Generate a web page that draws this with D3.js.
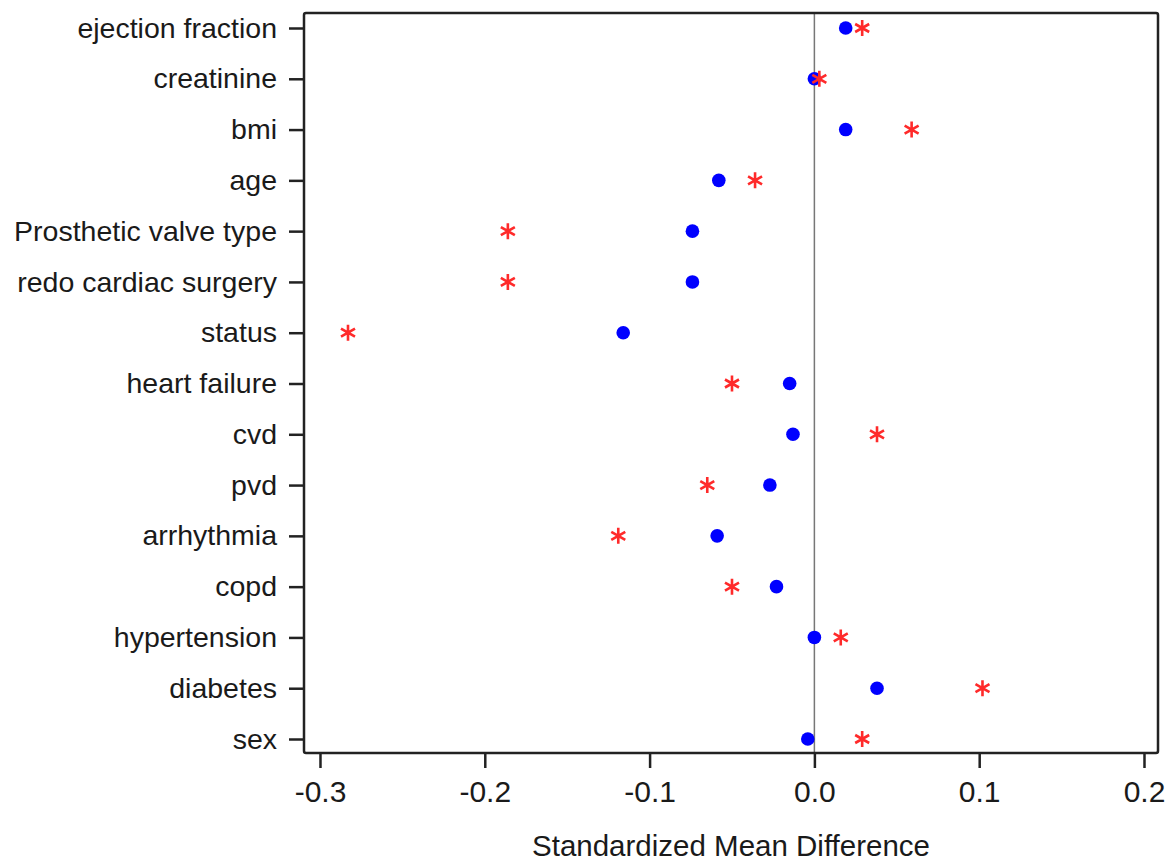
<!DOCTYPE html>
<html>
<head>
<meta charset="utf-8">
<script src="https://cdn.jsdelivr.net/npm/d3@7"></script>
<style>
    body { margin: 0; background: #fff; }
    text { font-family: "Liberation Sans", Arial, sans-serif; fill: #1a1a1a; }
</style>
</head>
<body>
<div id="chart"></div>
<script>
// Covariates, top to bottom
var covariates = ["ejection fraction", "creatinine", "bmi", "age", "Prosthetic valve type",
    "redo cardiac surgery", "status", "heart failure", "cvd", "pvd", "arrhythmia",
    "copd", "hypertension", "diabetes", "sex"];

// Standardized mean differences (blue dots)
var dotValues = [0.019, 0.000, 0.019, -0.058, -0.074, -0.074, -0.116, -0.015, -0.013,
    -0.027, -0.059, -0.023, 0.000, 0.038, -0.004];

// Standardized mean differences (red stars)
var starValues = [0.029, 0.003, 0.059, -0.036, -0.186, -0.186, -0.283, -0.050, 0.038,
    -0.065, -0.119, -0.050, 0.016, 0.102, 0.029];

var xTicks = [-0.3, -0.2, -0.1, 0.0, 0.1, 0.2];

function init() {
    var width = 1171;
    var height = 863;
    var plot = { left: 304, right: 1158, top: 13, bottom: 753 };

    var svg = d3.select("#chart")
        .append("svg")
        .attr("width", width)
        .attr("height", height);

    // Scales
    var x = d3.scaleLinear()
        .domain([-0.3097, 0.2085])
        .range([plot.left, plot.right]);

    var y = d3.scalePoint()
        .domain(covariates)
        .range([plot.top + 15, plot.bottom - 14]);

    // Reference line at zero
    svg.append("line")
        .attr("x1", x(0)).attr("x2", x(0))
        .attr("y1", plot.top).attr("y2", plot.bottom)
        .attr("stroke", "#777")
        .attr("stroke-width", 1.5);

    // Frame
    svg.append("rect")
        .attr("x", plot.left)
        .attr("y", plot.top)
        .attr("width", plot.right - plot.left)
        .attr("height", plot.bottom - plot.top)
        .attr("rx", 2)
        .attr("fill", "none")
        .attr("stroke", "#222")
        .attr("stroke-width", 2.5);

    // X axis
    var xAxis = svg.append("g")
        .attr("transform", "translate(0," + (plot.bottom + 1) + ")")
        .call(d3.axisBottom(x)
            .tickValues(xTicks)
            .tickSize(14)
            .tickPadding(13)
            .tickFormat(d3.format(".1f")));
    xAxis.select(".domain").remove();
    xAxis.selectAll(".tick line").attr("stroke", "#222").attr("stroke-width", 2.5);
    xAxis.selectAll(".tick text")
        .style("font-size", "30px")
        .attr("fill", "#1a1a1a")
        .text(function (d) { return d3.format(".1f")(d).replace("\u2212", "-"); });

    // Y axis
    var yAxis = svg.append("g")
        .attr("transform", "translate(" + (plot.left - 1) + ",0)")
        .call(d3.axisLeft(y).tickSize(14).tickPadding(12));
    yAxis.select(".domain").remove();
    yAxis.selectAll(".tick line").attr("stroke", "#222").attr("stroke-width", 2.5);
    yAxis.selectAll(".tick text")
        .style("font-size", "28.5px")
        .attr("fill", "#1a1a1a");

    // Axis title
    svg.append("text")
        .attr("x", (plot.left + plot.right) / 2)
        .attr("y", 856)
        .attr("text-anchor", "middle")
        .style("font-size", "29.5px")
        .text("Standardized Mean Difference");

    // Blue dots
    svg.selectAll(".dot")
        .data(covariates)
        .enter()
        .append("circle")
        .attr("class", "dot")
        .attr("cx", function (d, i) { return x(dotValues[i]); })
        .attr("cy", function (d) { return y(d); })
        .attr("r", 6.8)
        .attr("fill", "#0000ff");

    // Red stars (asterisks)
    var arms = "M0,-8L0,8M-7,-4L7,4M-7,4L7,-4";
    svg.selectAll(".star")
        .data(covariates)
        .enter()
        .append("path")
        .attr("class", "star")
        .attr("transform", function (d, i) {
            return "translate(" + x(starValues[i]) + "," + y(d) + ")";
        })
        .attr("d", arms)
        .attr("fill", "none")
        .attr("stroke", "#ff2a2a")
        .attr("stroke-width", 2.6);
}

window.onload = init;
</script>
</body>
</html>
